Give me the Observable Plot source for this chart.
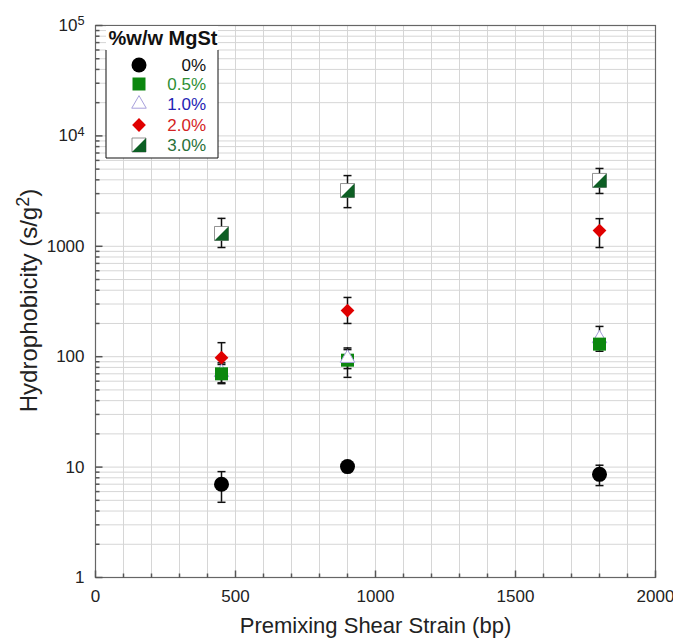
<!DOCTYPE html>
<html>
<head>
<meta charset="utf-8">
<script src="https://cdn.jsdelivr.net/npm/d3@7"></script>
<script src="https://cdn.jsdelivr.net/npm/@observablehq/plot@0.6"></script>
<style>
  body { margin: 0; background: #fff; }
  #chart { position: relative; width: 673px; height: 641px; }
  #chart svg { font-family: "Liberation Sans", Arial, sans-serif; }
</style>
</head>
<body>
<div id="chart"></div>
<script>
// Premixing shear strain (bp) at which each blend was sampled
const strain = [450, 900, 1800];

// Legend entries (% w/w magnesium stearate)
const seriesLabels = ["0%", "0.5%", "1.0%", "2.0%", "3.0%"];

// Hydrophobicity (s/g²): mean, lower and upper error bar per strain
const mid0 = [7.0, 10.1, 8.6];
const lo0 = [4.8, 9.3, 6.8];
const hi0 = [9.1, 10.9, 10.4];

const mid05 = [70, 93, 130];
const lo05 = [57, 65, 112];
const hi05 = [85, 116, 150];

const mid10 = [72, 97, 146];
const lo10 = [58, 78, 128];
const hi10 = [88, 120, 188];

const mid20 = [98, 262, 1390];
const lo20 = [76, 200, 975];
const hi20 = [134, 344, 1780];

const mid30 = [1306, 3200, 3950];
const lo30 = [975, 2240, 3010];
const hi30 = [1790, 4370, 5070];

// Axis tick values and labels
const xTicks = [0, 500, 1000, 1500, 2000];
const yTicks = [1, 10, 100, 1000, 10000, 100000];
const yTickLabels = ["1", "10", "100", "1000", "10^4", "10^5"];

const rows = (mid, lo, hi) => strain.map((x, i) => ({x, y: mid[i], lo: lo[i], hi: hi[i]}));
const s0 = rows(mid0, lo0, hi0);
const s05 = rows(mid05, lo05, hi05);
const s10 = rows(mid10, lo10, hi10);
const s20 = rows(mid20, lo20, hi20);
const s30 = rows(mid30, lo30, hi30);
const all = [...s0, ...s05, ...s10, ...s20, ...s30];

// Minor grid / tick positions
const xMinor = d3.range(100, 2000, 100).filter(v => v % 500 !== 0);
const xGrid = d3.range(100, 2000, 100);
const yAll = [];
for (let e = 0; e < 5; e++) for (let k = 1; k <= 9; k++) yAll.push(k * 10 ** e);
const yMinor = yAll.filter(v => !yTicks.includes(v));

// Custom symbols: size is the symbol area, so sqrt(size) is a length
const capSym = {draw(c, size) { const r = Math.sqrt(size) / 2; c.moveTo(-r, 0); c.lineTo(r, 0); }};
const halfSquare = {draw(c, size) { const r = Math.sqrt(size) / 2; c.moveTo(-r, r); c.lineTo(r, r); c.lineTo(r, -r); c.closePath(); }};
const tickUp = {draw(c, size) { const L = Math.sqrt(size); c.moveTo(0, 0); c.lineTo(0, -L); }};
const tickRight = {draw(c, size) { const L = Math.sqrt(size); c.moveTo(0, 0); c.lineTo(L, 0); }};
const rFor = len => len / Math.sqrt(Math.PI);

const green = "#0c870f";
const darkGreen = "#0d5f24";
const red = "#e00000";
const lavender = "#a8a0dc";

const tri450and1800 = s10.filter(d => d.x !== 900);
const tri900 = s10.filter(d => d.x === 900);

const chart = Plot.plot({
  width: 673,
  height: 641,
  marginLeft: 95,
  marginRight: 18,
  marginTop: 25,
  marginBottom: 64,
  style: {fontFamily: "Liberation Sans, Arial, sans-serif", background: "#fff"},
  x: {domain: [0, 2000]},
  y: {type: "log", domain: [1, 100000]},
  marks: [
    Plot.gridX(xGrid, {stroke: "#d6d6d6", strokeOpacity: 1}),
    Plot.gridY(yAll, {stroke: "#d6d6d6", strokeOpacity: 1}),
    Plot.frame({stroke: "#666", strokeWidth: 1.2}),
    // inward ticks
    Plot.dot(xTicks, {x: d => d, y: () => 1, symbol: tickUp, r: rFor(7), stroke: "#555", fill: "none"}),
    Plot.dot(xMinor, {x: d => d, y: () => 1, symbol: tickUp, r: rFor(4), stroke: "#555", fill: "none"}),
    Plot.dot(yTicks, {x: () => 0, y: d => d, symbol: tickRight, r: rFor(7), stroke: "#555", fill: "none"}),
    Plot.dot(yMinor, {x: () => 0, y: d => d, symbol: tickRight, r: rFor(4), stroke: "#555", fill: "none"}),
    Plot.axisX({ticks: xTicks, tickSize: 0, tickPadding: 12, fontSize: 17, label: null, fill: "#222",
      tickFormat: d => String(d)}),
    Plot.axisY({ticks: yTicks, tickSize: 0, tickPadding: 11, fontSize: 17, label: null, fill: "#222",
      tickFormat: d => yTickLabels[yTicks.indexOf(d)]}),
    Plot.text(["Premixing Shear Strain (bp)"], {frameAnchor: "bottom", dy: 55, fontSize: 22, fill: "#222"}),
    Plot.text(["Hydrophobicity (s/g^2)"], {frameAnchor: "left", textAnchor: "middle", dx: -66, dy: -1, rotate: -90, fontSize: 24, fill: "#222"}),
    // error bars
    Plot.ruleX(all, {x: "x", y1: "lo", y2: "hi", stroke: "#111", strokeWidth: 1.5}),
    Plot.dot(all, {x: "x", y: "lo", symbol: capSym, r: rFor(8), stroke: "#111", strokeWidth: 1.5, fill: "none"}),
    Plot.dot(all, {x: "x", y: "hi", symbol: capSym, r: rFor(8), stroke: "#111", strokeWidth: 1.5, fill: "none"}),
    // 0%
    Plot.dot(s0, {x: "x", y: "y", symbol: "circle", r: 7.5, fill: "#000"}),
    // 1.0% (behind the squares where they overlap)
    Plot.dot(tri450and1800, {x: "x", y: "y", symbol: "triangle", r: 5.4, fill: "#fff", stroke: lavender, strokeWidth: 1}),
    // 0.5%
    Plot.dot(s05, {x: "x", y: "y", symbol: "square", r: rFor(13), fill: green}),
    Plot.dot(tri900, {x: "x", y: "y", symbol: "triangle", r: 5.4, fill: "#fff", stroke: lavender, strokeWidth: 1}),
    // 2.0%
    Plot.dot(s20, {x: "x", y: "y", symbol: "diamond2", r: 6.2, fill: red}),
    // 3.0%
    Plot.dot(s30, {x: "x", y: "y", symbol: "square", r: rFor(14), fill: "#fff", stroke: "#777", strokeWidth: 0.8}),
    Plot.dot(s30, {x: "x", y: "y", symbol: halfSquare, r: rFor(14), fill: darkGreen})
  ]
});

document.getElementById("chart").appendChild(chart);

const svg = d3.select(chart);

// Turn "base^exp" labels into text with a raised exponent
svg.selectAll("text").each(function () {
  const t = this.textContent;
  const m = /^(.*)\^(\d)(.*)$/.exec(t);
  if (!m || this.querySelector("tspan")) return;
  const el = d3.select(this);
  el.text(null);
  el.append("tspan").text(m[1]);
  el.append("tspan").attr("dy", "-0.45em").attr("font-size", "0.75em").text(m[2]);
  if (m[3]) el.append("tspan").attr("dy", "0.34em").text(m[3]);
});

// Legend box drawn inside the plot area
const lg = svg.append("g").attr("font-family", "Liberation Sans, Arial, sans-serif");
const bx0 = 106, bx1 = 218, by0 = 26, by1 = 158, byLine = 50;
lg.append("rect").attr("x", bx0).attr("y", by0).attr("width", bx1 - bx0).attr("height", by1 - by0).attr("fill", "#fff");
lg.append("path").attr("d", `M${bx0},${byLine}V${by1}H${bx1}V${byLine}`).attr("fill", "none").attr("stroke", "#111").attr("stroke-width", 1);
lg.append("text").attr("x", (bx0 + bx1) / 2 + 1).attr("y", 45).attr("text-anchor", "middle")
  .attr("font-size", 20).attr("font-weight", "bold").attr("fill", "#111").text("%w/w MgSt");

const rowY = [65, 84, 104, 125, 145];
const labelColors = ["#111", "#2f8f35", "#2424b4", "#d42424", "#2a7038"];
const symX = 139, txtX = 206;
const sym = (type, size) => d3.symbol(type, size)();
// 0%
lg.append("path").attr("transform", `translate(${symX},${rowY[0]})`).attr("d", sym(d3.symbolCircle, Math.PI * 7.5 * 7.5)).attr("fill", "#000");
// 0.5%
lg.append("path").attr("transform", `translate(${symX},${rowY[1]})`).attr("d", sym(d3.symbolSquare, 13 * 13)).attr("fill", green);
// 1.0%
lg.append("path").attr("transform", `translate(${symX},${rowY[2]})`).attr("d", sym(d3.symbolTriangle, Math.PI * 5.4 * 5.4)).attr("fill", "#fff").attr("stroke", lavender);
// 2.0%
lg.append("path").attr("transform", `translate(${symX},${rowY[3]})`).attr("d", sym(d3.symbolDiamond2, Math.PI * 6.2 * 6.2)).attr("fill", red);
// 3.0%
lg.append("path").attr("transform", `translate(${symX},${rowY[4]})`).attr("d", sym(d3.symbolSquare, 14 * 14)).attr("fill", "#fff").attr("stroke", "#777").attr("stroke-width", 0.8);
lg.append("path").attr("transform", `translate(${symX},${rowY[4]})`).attr("d", sym(halfSquare, 14 * 14)).attr("fill", darkGreen);

seriesLabels.forEach((t, i) => {
  lg.append("text").attr("x", txtX).attr("y", rowY[i]).attr("dy", "0.35em").attr("text-anchor", "end")
    .attr("font-size", 17).attr("fill", labelColors[i]).text(t);
});
</script>
</body>
</html>
